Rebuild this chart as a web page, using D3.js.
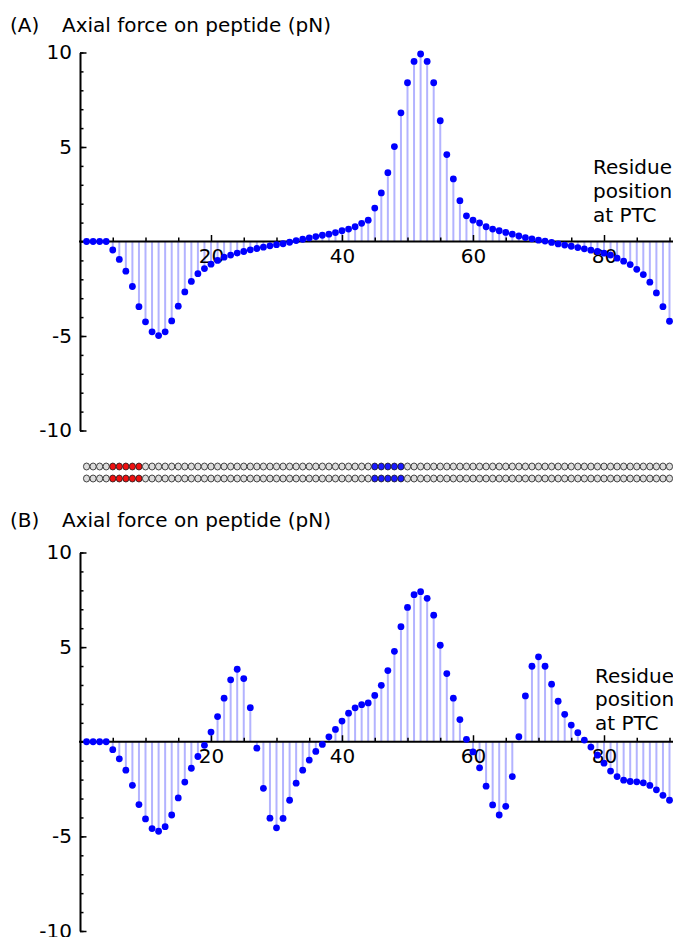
<!DOCTYPE html>
<html>
<head>
<meta charset="utf-8">
<script src="https://cdn.jsdelivr.net/npm/d3@7"></script>
<style>
  body { margin: 0; background: #fff; }
  svg { display: block; font-family: "DejaVu Sans", sans-serif; }
</style>
</head>
<body>
<script>
// residue positions along the peptide (1 = PTC end)
const residues = d3.range(1, 91);

// axial force (pN) per residue, panel A
const forceA = [
  0, 0, 0, 0, -0.45, -0.95, -1.57, -2.38, -3.45, -4.25,
  -4.78, -4.98, -4.78, -4.2, -3.42, -2.67, -2.11, -1.7, -1.43, -1.2,
  -1.0, -0.83, -0.72, -0.61, -0.53, -0.44, -0.37, -0.3, -0.23, -0.17,
  -0.12, -0.04, 0.05, 0.12, 0.19, 0.26, 0.33, 0.39, 0.47, 0.57,
  0.66, 0.78, 0.96, 1.13, 1.77, 2.57, 3.64, 5.02, 6.81, 8.4,
  9.53, 9.92, 9.53, 8.4, 6.39, 4.6, 3.31, 2.16, 1.36, 1.13,
  0.98, 0.78, 0.66, 0.57, 0.48, 0.39, 0.29, 0.21, 0.14, 0.07,
  0.02, -0.05, -0.13, -0.19, -0.25, -0.32, -0.39, -0.46, -0.53, -0.62,
  -0.72, -0.88, -1.04, -1.22, -1.47, -1.75, -2.15, -2.72, -3.45, -4.22
];

// axial force (pN) per residue, panel B
const forceB = [
  0, 0, 0, 0, -0.42, -0.9, -1.5, -2.3, -3.32, -4.08,
  -4.59, -4.73, -4.49, -3.87, -2.97, -2.13, -1.4, -0.78, -0.19, 0.51,
  1.33, 2.3, 3.27, 3.83, 3.34, 1.8, -0.34, -2.46, -4.04, -4.55,
  -4.05, -3.09, -2.19, -1.5, -0.97, -0.51, -0.14, 0.26, 0.65, 1.09,
  1.51, 1.79, 1.96, 2.05, 2.45, 2.98, 3.76, 4.78, 6.08, 7.1,
  7.77, 7.93, 7.58, 6.69, 5.1, 3.6, 2.3, 1.17, 0.13, -0.54,
  -1.38, -2.35, -3.34, -3.87, -3.41, -1.84, 0.27, 2.42, 3.99, 4.49,
  3.99, 3.04, 2.14, 1.45, 0.88, 0.48, 0.09, -0.28, -0.71, -1.13,
  -1.55, -1.84, -2.03, -2.1, -2.12, -2.17, -2.31, -2.54, -2.83, -3.09
];

// highlighted residues in the bead strip
const redBeads = [5, 6, 7, 8, 9];
const blueBeads = [45, 46, 47, 48, 49];

// ticks
const yMajor = [-10, -5, 5, 10];
const yMinor = d3.range(-10, 11);
const xMajor = [20, 40, 60, 80];
const xMinor = d3.range(5, 91, 5).filter((v) => v % 20 !== 0);

const width = 673;
const height = 937;
const plain = (d) => String(d); // hyphen minus, like the original

const svg = d3
  .select("body")
  .append("svg")
  .attr("width", width)
  .attr("height", height);

const x = d3.scaleLinear().domain([0, 90]).range([80, 669.5]);

const panels = [
  { tag: "(A)", values: forceA, yTop: 52.5, yBot: 430.5, titleY: 31.5, noteX: 593, noteY: 174 },
  { tag: "(B)", values: forceB, yTop: 552.5, yBot: 931, titleY: 526.5, noteX: 595, noteY: 682.5 },
];

panels.forEach((p) => {
  const y = d3.scaleLinear().domain([-10, 10]).range([p.yBot, p.yTop]);
  const g = svg.append("g");

  // title
  g.append("text")
    .attr("x", 10)
    .attr("y", p.titleY)
    .style("font-size", "20px")
    .text(p.tag);
  g.append("text")
    .attr("x", 62)
    .attr("y", p.titleY)
    .style("font-size", "20px")
    .text("Axial force on peptide (pN)");

  // stems
  g.append("g")
    .selectAll("line")
    .data(residues)
    .join("line")
    .attr("x1", (d) => x(d))
    .attr("x2", (d) => x(d))
    .attr("y1", y(0))
    .attr("y2", (d, i) => y(p.values[i]))
    .attr("stroke", "#b3b3ff")
    .attr("stroke-width", 2);

  // y axis: minor then major
  g.append("g")
    .attr("transform", `translate(${x(0)},0)`)
    .call(d3.axisLeft(y).tickValues(yMinor).tickSize(-3.5).tickSizeOuter(0).tickFormat(""))
    .call((a) => a.select(".domain").attr("stroke-width", 2))
    .call((a) => a.selectAll(".tick line").attr("stroke-width", 1.5));
  g.append("g")
    .attr("transform", `translate(${x(0)},0)`)
    .call(d3.axisLeft(y).tickValues(yMajor).tickSize(-6.5).tickPadding(8).tickFormat(plain))
    .call((a) => a.select(".domain").remove())
    .call((a) => a.selectAll(".tick line").attr("stroke-width", 1.5))
    .call((a) => a.selectAll("text").style("font-size", "20px").attr("fill", "#000")
      .style("font-family", "DejaVu Sans, sans-serif"));

  // x axis line along zero, ticks pointing up
  g.append("line")
    .attr("x1", x(0) - 1)
    .attr("x2", width)
    .attr("y1", y(0))
    .attr("y2", y(0))
    .attr("stroke", "#000")
    .attr("stroke-width", 2);
  g.append("g")
    .attr("transform", `translate(0,${y(0)})`)
    .call(d3.axisBottom(x).tickValues(xMinor).tickSize(-4).tickFormat(""))
    .call((a) => a.select(".domain").remove())
    .call((a) => a.selectAll(".tick line").attr("stroke-width", 1.5));
  g.append("g")
    .attr("transform", `translate(0,${y(0)})`)
    .call(d3.axisBottom(x).tickValues(xMajor).tickSize(-6.5).tickPadding(7).tickFormat(plain))
    .call((a) => a.select(".domain").remove())
    .call((a) => a.selectAll(".tick line").attr("stroke-width", 1.5))
    .call((a) => a.selectAll("text").style("font-size", "20px").attr("fill", "#000")
      .style("font-family", "DejaVu Sans, sans-serif"));

  // dots
  g.append("g")
    .selectAll("circle")
    .data(residues)
    .join("circle")
    .attr("cx", (d) => x(d))
    .attr("cy", (d, i) => y(p.values[i]))
    .attr("r", 3.4)
    .attr("fill", "#0000ff");

  // axis note
  const note = g.append("text")
    .attr("x", p.noteX)
    .attr("y", p.noteY)
    .style("font-size", "20px");
  ["Residue", "position", "at PTC"].forEach((t, i) =>
    note.append("tspan").attr("x", p.noteX).attr("dy", i ? 23.8 : 0).text(t)
  );
});

// bead strips between the panels
const beadRows = [466.5, 478.5];
const beadFill = (d) =>
  redBeads.includes(d) ? "#ee1111" : blueBeads.includes(d) ? "#1a1aff" : "#dcdcdc";

beadRows.forEach((ry) => {
  svg.append("g")
    .selectAll("ellipse")
    .data(residues)
    .join("ellipse")
    .attr("cx", (d) => x(d))
    .attr("cy", ry)
    .attr("rx", 3.1)
    .attr("ry", 3.5)
    .attr("fill", beadFill)
    .attr("stroke", "#1a1a1a")
    .attr("stroke-width", 0.8);
});
</script>
</body>
</html>
